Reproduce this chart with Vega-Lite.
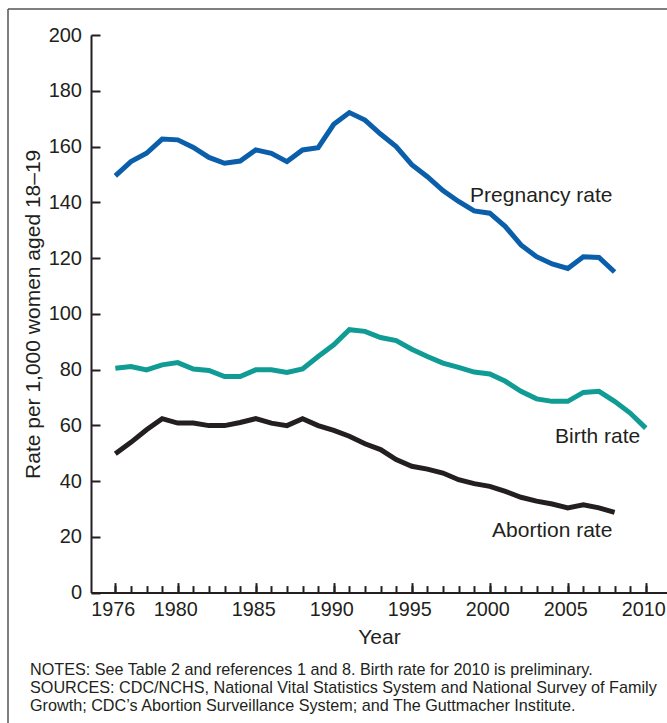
{
  "$schema": "https://vega.github.io/schema/vega-lite/v6.json",
  "width": 659,
  "height": 714,
  "autosize": {"type": "none"},
  "padding": {"left": 8, "top": 9, "right": 0, "bottom": 0},
  "background": "white",
  "config": {
    "font": "Liberation Sans",
    "view": {"stroke": "#555555", "strokeWidth": 1.5, "strokeDash": [659, 1373, 714, 0]},
    "axis": {"grid": false, "domainColor": "#231F20", "tickColor": "#231F20", "labelColor": "#231F20", "titleColor": "#231F20", "labelFont": "Liberation Sans", "titleFont": "Liberation Sans", "titleFontWeight": "normal"}
  },
  "title": {
    "text": [
      "NOTES: See Table 2 and references 1 and 8. Birth rate for 2010 is preliminary.",
      "SOURCES: CDC/NCHS, National Vital Statistics System and National Survey of Family",
      "Growth; CDC’s Abortion Surveillance System; and The Guttmacher Institute."
    ],
    "orient": "bottom",
    "anchor": "start",
    "frame": "group",
    "offset": -61,
    "dx": 22,
    "fontSize": 16.2,
    "font": "Liberation Sans",
    "fontWeight": "normal",
    "color": "#231F20",
    "lineHeight": 18,
    "baseline": "top"
  },
  "datasets": {
    "rates": [
      {"year": 1976, "series": "Pregnancy", "value": 149.5},
      {"year": 1977, "series": "Pregnancy", "value": 154.6},
      {"year": 1978, "series": "Pregnancy", "value": 157.6},
      {"year": 1979, "series": "Pregnancy", "value": 162.7},
      {"year": 1980, "series": "Pregnancy", "value": 162.4},
      {"year": 1981, "series": "Pregnancy", "value": 159.7},
      {"year": 1982, "series": "Pregnancy", "value": 156.1},
      {"year": 1983, "series": "Pregnancy", "value": 154.0},
      {"year": 1984, "series": "Pregnancy", "value": 154.8},
      {"year": 1985, "series": "Pregnancy", "value": 158.8},
      {"year": 1986, "series": "Pregnancy", "value": 157.6},
      {"year": 1987, "series": "Pregnancy", "value": 154.6},
      {"year": 1988, "series": "Pregnancy", "value": 158.8},
      {"year": 1989, "series": "Pregnancy", "value": 159.6},
      {"year": 1990, "series": "Pregnancy", "value": 168.0},
      {"year": 1991, "series": "Pregnancy", "value": 172.2},
      {"year": 1992, "series": "Pregnancy", "value": 169.5},
      {"year": 1993, "series": "Pregnancy", "value": 164.5},
      {"year": 1994, "series": "Pregnancy", "value": 160.0},
      {"year": 1995, "series": "Pregnancy", "value": 153.5},
      {"year": 1996, "series": "Pregnancy", "value": 149.2},
      {"year": 1997, "series": "Pregnancy", "value": 144.2},
      {"year": 1998, "series": "Pregnancy", "value": 140.3},
      {"year": 1999, "series": "Pregnancy", "value": 136.9},
      {"year": 2000, "series": "Pregnancy", "value": 136.1},
      {"year": 2001, "series": "Pregnancy", "value": 131.3},
      {"year": 2002, "series": "Pregnancy", "value": 124.7},
      {"year": 2003, "series": "Pregnancy", "value": 120.5},
      {"year": 2004, "series": "Pregnancy", "value": 117.9},
      {"year": 2005, "series": "Pregnancy", "value": 116.3},
      {"year": 2006, "series": "Pregnancy", "value": 120.5},
      {"year": 2007, "series": "Pregnancy", "value": 120.2},
      {"year": 2008, "series": "Pregnancy", "value": 115.0},
      {"year": 1976, "series": "Birth", "value": 80.5},
      {"year": 1977, "series": "Birth", "value": 81.1},
      {"year": 1978, "series": "Birth", "value": 79.9},
      {"year": 1979, "series": "Birth", "value": 81.7},
      {"year": 1980, "series": "Birth", "value": 82.5},
      {"year": 1981, "series": "Birth", "value": 80.2},
      {"year": 1982, "series": "Birth", "value": 79.7},
      {"year": 1983, "series": "Birth", "value": 77.5},
      {"year": 1984, "series": "Birth", "value": 77.5},
      {"year": 1985, "series": "Birth", "value": 79.9},
      {"year": 1986, "series": "Birth", "value": 79.9},
      {"year": 1987, "series": "Birth", "value": 79.0},
      {"year": 1988, "series": "Birth", "value": 80.2},
      {"year": 1989, "series": "Birth", "value": 84.7},
      {"year": 1990, "series": "Birth", "value": 88.9},
      {"year": 1991, "series": "Birth", "value": 94.3},
      {"year": 1992, "series": "Birth", "value": 93.7},
      {"year": 1993, "series": "Birth", "value": 91.5},
      {"year": 1994, "series": "Birth", "value": 90.4},
      {"year": 1995, "series": "Birth", "value": 87.3},
      {"year": 1996, "series": "Birth", "value": 84.7},
      {"year": 1997, "series": "Birth", "value": 82.3},
      {"year": 1998, "series": "Birth", "value": 80.8},
      {"year": 1999, "series": "Birth", "value": 79.1},
      {"year": 2000, "series": "Birth", "value": 78.4},
      {"year": 2001, "series": "Birth", "value": 75.8},
      {"year": 2002, "series": "Birth", "value": 72.2},
      {"year": 2003, "series": "Birth", "value": 69.5},
      {"year": 2004, "series": "Birth", "value": 68.6},
      {"year": 2005, "series": "Birth", "value": 68.6},
      {"year": 2006, "series": "Birth", "value": 71.8},
      {"year": 2007, "series": "Birth", "value": 72.2},
      {"year": 2008, "series": "Birth", "value": 68.6},
      {"year": 2009, "series": "Birth", "value": 64.4},
      {"year": 2010, "series": "Birth", "value": 59.0},
      {"year": 1976, "series": "Abortion", "value": 49.8},
      {"year": 1977, "series": "Abortion", "value": 53.9},
      {"year": 1978, "series": "Abortion", "value": 58.4},
      {"year": 1979, "series": "Abortion", "value": 62.4},
      {"year": 1980, "series": "Abortion", "value": 60.8},
      {"year": 1981, "series": "Abortion", "value": 60.8},
      {"year": 1982, "series": "Abortion", "value": 59.9},
      {"year": 1983, "series": "Abortion", "value": 59.9},
      {"year": 1984, "series": "Abortion", "value": 61.0},
      {"year": 1985, "series": "Abortion", "value": 62.4},
      {"year": 1986, "series": "Abortion", "value": 60.8},
      {"year": 1987, "series": "Abortion", "value": 59.9},
      {"year": 1988, "series": "Abortion", "value": 62.4},
      {"year": 1989, "series": "Abortion", "value": 59.9},
      {"year": 1990, "series": "Abortion", "value": 58.2},
      {"year": 1991, "series": "Abortion", "value": 56.1},
      {"year": 1992, "series": "Abortion", "value": 53.4},
      {"year": 1993, "series": "Abortion", "value": 51.3},
      {"year": 1994, "series": "Abortion", "value": 47.7},
      {"year": 1995, "series": "Abortion", "value": 45.3},
      {"year": 1996, "series": "Abortion", "value": 44.3},
      {"year": 1997, "series": "Abortion", "value": 42.9},
      {"year": 1998, "series": "Abortion", "value": 40.5},
      {"year": 1999, "series": "Abortion", "value": 39.1},
      {"year": 2000, "series": "Abortion", "value": 38.1},
      {"year": 2001, "series": "Abortion", "value": 36.3},
      {"year": 2002, "series": "Abortion", "value": 34.2},
      {"year": 2003, "series": "Abortion", "value": 32.8},
      {"year": 2004, "series": "Abortion", "value": 31.8},
      {"year": 2005, "series": "Abortion", "value": 30.4},
      {"year": 2006, "series": "Abortion", "value": 31.5},
      {"year": 2007, "series": "Abortion", "value": 30.4},
      {"year": 2008, "series": "Abortion", "value": 28.8}
    ],
    "labels": [
      {"year": 1998.74, "value": 142.3, "label": "Pregnancy rate"},
      {"year": 2004.18, "value": 55.8, "label": "Birth rate"},
      {"year": 2000.15, "value": 22.1, "label": "Abortion rate"}
    ]
  },
  "layer": [
    {
      "data": {"name": "rates"},
      "mark": {"type": "line", "strokeWidth": 5, "strokeCap": "butt"},
      "encoding": {
        "x": {
          "field": "year", "type": "quantitative",
          "scale": {"domain": [1974.44, 2011.36], "range": [83, 659], "nice": false, "zero": false},
          "axis": {
            "orient": "bottom", "offset": -130.4,
            "values": [1976, 1977, 1978, 1979, 1980, 1981, 1982, 1983, 1984, 1985, 1986, 1987, 1988, 1989, 1990, 1991, 1992, 1993, 1994, 1995, 1996, 1997, 1998, 1999, 2000, 2001, 2002, 2003, 2004, 2005, 2006, 2007, 2008, 2009, 2010],
            "labels": false, "domain": false, "tickSize": -7, "tickWidth": 2, "title": null
          }
        },
        "y": {
          "field": "value", "type": "quantitative",
          "scale": {"domain": [0, 200], "range": [583.6, 26.05], "nice": false, "zero": false},
          "axis": {
            "orient": "left", "offset": -83,
            "values": [0, 20, 40, 60, 80, 100, 120, 140, 160, 180, 200],
            "tickSize": -9, "tickWidth": 2, "domainWidth": 2,
            "labelPadding": 18.5, "labelFontSize": 20,
            "title": "Rate per 1,000 women aged 18–19",
            "titleFontSize": 21, "titleX": -58, "titleBaseline": "middle"
          }
        },
        "color": {
          "field": "series", "type": "nominal",
          "scale": {"domain": ["Pregnancy", "Birth", "Abortion"], "range": ["#0B5FAA", "#109C94", "#231F20"]},
          "legend": null
        }
      }
    },
    {
      "data": {"name": "labels"},
      "mark": {"type": "text", "align": "left", "baseline": "middle", "fontSize": 21, "color": "#231F20"},
      "encoding": {
        "x": {
          "field": "year", "type": "quantitative",
          "axis": {
            "orient": "bottom", "offset": -130.4,
            "values": [1976, 1980, 1985, 1990, 1995, 2000, 2005, 2010],
            "format": "d",
            "tickSize": -10, "tickWidth": 2, "domainWidth": 2,
            "labelPadding": 17, "labelFontSize": 19.8, "labelOffset": -2.5,
            "title": "Year", "titleFontSize": 21, "titleY": 45, "titleBaseline": "middle"
          }
        },
        "y": {"field": "value", "type": "quantitative"},
        "text": {"field": "label"}
      }
    }
  ],
  "resolve": {"axis": {"x": "independent"}}
}
